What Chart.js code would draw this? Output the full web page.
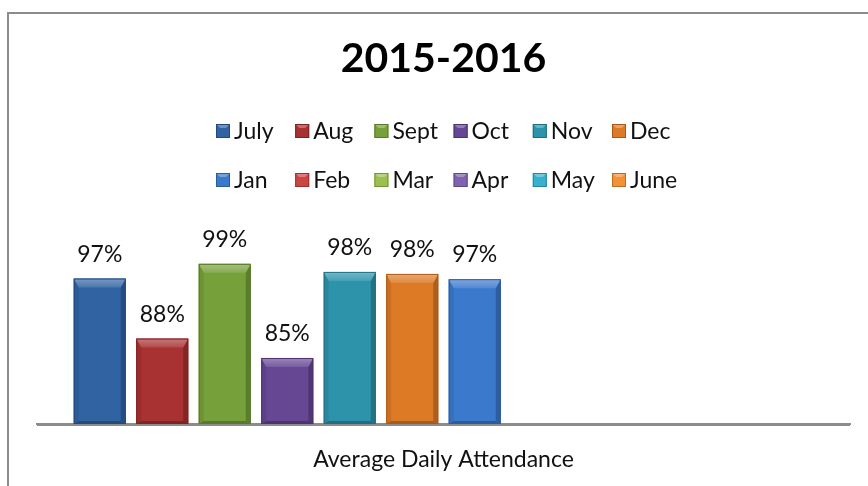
<!DOCTYPE html>
<html><head><meta charset="utf-8">
<script src="https://cdn.jsdelivr.net/npm/chart.js@4/dist/chart.umd.min.js"></script>
<style>html,body{margin:0;padding:0;background:#fff;overflow:hidden}canvas{display:block}</style>
</head><body>
<canvas id="c" width="868" height="486"></canvas>
<script>
// ---- data ----
const categories = ['Average Daily Attendance'];
const months = ['July','Aug','Sept','Oct','Nov','Dec','Jan','Feb','Mar','Apr','May','June'];
const attendance = [96.8, 87.8, 99.0, 84.9, 97.8, 97.5, 96.7, null, null, null, null, null];
const titleText = '2015-2016';

// ---- styles ----
const barColors = ['#3163a3','#a83131','#76a03a','#654794','#2c93aa','#dd7a26','#3b79cc',
                   '#cc4542','#9bc04f','#8063b0','#38b1cf','#f29135'];
const edgeColors = ['#234a7d','#7e2222','#587a29','#4a3370','#1f6f82','#a95a18','#2a5c9e',
                    '#9a302e','#74923a','#5e4886','#2786a0','#b96c25'];
const FONT = 'Lato';

function shade(hex, amt){
  const n = parseInt(hex.slice(1),16);
  let r=(n>>16)&255,g=(n>>8)&255,b=n&255;
  const f = c => amt>=0 ? Math.round(c+(255-c)*amt) : Math.round(c*(1+amt));
  return `rgb(${f(r)},${f(g)},${f(b)})`;
}

const decoPlugin = {
  id:'deco',
  beforeDraw(chart){
    const ctx = chart.ctx;
    ctx.save();
    ctx.fillStyle='#fff';
    ctx.fillRect(0,0,chart.width,chart.height);
    ctx.strokeStyle='#8c8c8c';
    ctx.lineWidth=2;
    ctx.beginPath();
    ctx.moveTo(8,chart.height+2); ctx.lineTo(8,13); ctx.lineTo(chart.width+2,13);
    ctx.stroke();
    ctx.restore();
  },
  afterDatasetsDraw(chart){
    const ctx = chart.ctx;
    const area = chart.chartArea;
    ctx.save();
    chart.data.datasets.forEach((ds,i)=>{
      const meta = chart.getDatasetMeta(i);
      meta.data.forEach((el,j)=>{
        const v = ds.data[j];
        if (v==null) return;
        const p = el.getProps(['x','y','base','width'], true);
        const l = p.x - p.width/2, r = p.x + p.width/2, t = p.y;
        const bt = Math.min(p.base, area.bottom);
        const bv = 9, sv = 5;
        const c = barColors[i];
        ctx.fillStyle = shade(c,-0.08);
        ctx.beginPath(); ctx.moveTo(l,t); ctx.lineTo(l+sv,t+bv); ctx.lineTo(l+sv,bt-3); ctx.lineTo(l,bt); ctx.closePath(); ctx.fill();
        ctx.fillStyle = shade(c,-0.22);
        ctx.beginPath(); ctx.moveTo(r,t); ctx.lineTo(r-sv,t+bv); ctx.lineTo(r-sv,bt-3); ctx.lineTo(r,bt); ctx.closePath(); ctx.fill();
        ctx.fillStyle = shade(c,-0.25);
        ctx.beginPath(); ctx.moveTo(l,bt); ctx.lineTo(l+sv,bt-3); ctx.lineTo(r-sv,bt-3); ctx.lineTo(r,bt); ctx.closePath(); ctx.fill();
        const g = ctx.createLinearGradient(0,t,0,t+bv);
        g.addColorStop(0, shade(c,0.35));
        g.addColorStop(1, shade(c,0.12));
        ctx.fillStyle = g;
        ctx.beginPath(); ctx.moveTo(l,t); ctx.lineTo(r,t); ctx.lineTo(r-sv,t+bv); ctx.lineTo(l+sv,t+bv); ctx.closePath(); ctx.fill();
        ctx.strokeStyle = edgeColors[i]; ctx.lineWidth = 1;
        ctx.strokeRect(l+0.5,t+0.5,p.width-1,bt-t-1);
        ctx.fillStyle = '#111';
        ctx.font = `23px ${FONT}`;
        ctx.textAlign = 'center'; ctx.textBaseline = 'alphabetic';
        ctx.fillText(Math.round(v)+'%', p.x, t-17);
      });
    });
    ctx.strokeStyle='#8c8c8c'; ctx.lineWidth=2;
    ctx.beginPath(); ctx.moveTo(area.left, area.bottom+1); ctx.lineTo(area.right, area.bottom+1); ctx.stroke();
    ctx.restore();
  },
  afterDraw(chart){
    const ctx = chart.ctx;
    ctx.save();
    ctx.font = `23px ${FONT}`;
    ctx.textBaseline = 'middle';
    ctx.textAlign = 'left';
    const x0 = 216, colW = 79.2, rows = [131, 180], box = 14;
    chart.data.datasets.forEach((ds,i)=>{
      const col = i%6, row = Math.floor(i/6);
      const x = x0 + col*colW, y = rows[row];
      const c = barColors[i];
      ctx.fillStyle = c;
      ctx.fillRect(x, y-box/2, box, box);
      ctx.fillStyle = shade(c,0.3);
      ctx.beginPath(); ctx.moveTo(x,y-box/2); ctx.lineTo(x+box,y-box/2); ctx.lineTo(x+box-4,y-box/2+4); ctx.lineTo(x+4,y-box/2+4); ctx.closePath(); ctx.fill();
      ctx.strokeStyle = edgeColors[i]; ctx.lineWidth=1;
      ctx.strokeRect(x+0.5,y-box/2+0.5,box-1,box-1);
      ctx.fillStyle = '#111';
      ctx.fillText(ds.label, x+box+4, y+1);
    });
    ctx.restore();
  }
};

new Chart(document.getElementById('c'), {
  type:'bar',
  data:{
    labels: categories,
    datasets: months.map((m,i)=>({
      label:m,
      data:[attendance[i]],
      backgroundColor: barColors[i],
      borderWidth:0,
      categoryPercentage:0.9225,
      barPercentage:0.832
    }))
  },
  options:{
    responsive:false,
    animation:false,
    layout:{padding:{left:37,right:18,top:0,bottom:0}},
    plugins:{
      legend:{display:false},
      tooltip:{enabled:false},
      title:{display:true,text:titleText,color:'#000',
        font:{family:FONT,size:41,weight:'bold'},
        padding:{top:34,bottom:174}}
    },
    scales:{
      x:{
        grid:{display:false,drawTicks:false},
        border:{display:true,color:'#8c8c8c',width:2},
        ticks:{color:'#111',font:{family:FONT,size:23},padding:22},
        afterFit(s){ s.height = 62; }
      },
      y:{display:false,min:75,max:100}
    }
  },
  plugins:[decoPlugin]
});
</script>
</body></html>
